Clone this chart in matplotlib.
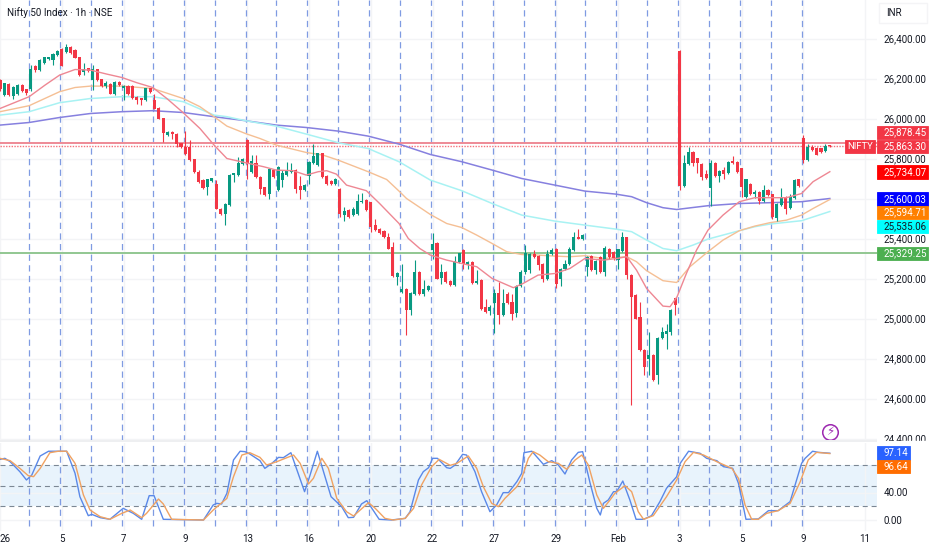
import numpy as np
import matplotlib
matplotlib.use('Agg')
import matplotlib.pyplot as plt
from matplotlib.patches import Rectangle

plt.rcParams['font.family'] = ['Roboto', 'DejaVu Sans']

opens = [26192,26117,26172,26112,26125,26167,26145,26150,26264,26245,
26279,26297,26295,26317,26350,26334,26359,26342,26305,26235,
26250,26192,26245,26195,26162,26172,26125,26184,26155,26165,
26162,26109,26100,26092,26150,26095,26055,26000,25917,25934,
25922,25875,25859,25859,25795,25734,25692,25659,25689,25672,
25550,25525,25567,25717,25717,25775,25892,25734,25775,25709,
25655,25625,25742,25645,25692,25717,25734,25745,25662,25645,
25712,25779,25767,25825,25712,25689,25675,25647,25517,25542,
25517,25522,25584,25592,25580,25467,25445,25437,25409,25355,
25209,25134,25150,25042,25125,25234,25125,25142,25345,25380,
25205,25232,25187,25167,25284,25342,25275,25284,25179,25192,
25059,25039,25079,25129,25017,25122,25084,25029,25164,25234,
25242,25322,25312,25272,25200,25325,25350,25200,25250,25272,
25342,25409,25400,25259,25312,25242,25309,25234,25347,25334,
25292,25339,25405,25217,25117,25005,24842,24800,24817,24717,
24904,24925,24934,25100,26335,25664,25775,25834,25800,25772,
25725,25655,25779,25712,25742,25729,25789,25784,25750,25609,
25672,25625,25634,25587,25642,25620,25505,25567,25609,25554,
25605,25695,25900,25792,25859,25854,25850,25837,25865]
highs = [26200,26180,26177,26165,26172,26172,26150,26267,26270,26297,
26310,26310,26330,26342,26354,26372,26365,26348,26308,26279,
26255,26270,26250,26200,26190,26176,26190,26190,26168,26170,
26168,26112,26104,26155,26155,26125,26060,26004,25940,25938,
25930,25880,25937,25892,25800,25742,25698,25700,25705,25692,
25554,25580,25722,25730,25809,25805,25897,25820,25820,25715,
25660,25755,25747,25765,25745,25784,25779,25750,25712,25672,
25790,25872,25830,25830,25716,25694,25705,25652,25559,25547,
25560,25625,25629,25597,25585,25500,25455,25442,25429,25384,
25232,25272,25155,25134,25295,25238,25195,25167,25430,25385,
25275,25237,25192,25312,25330,25350,25290,25290,25242,25197,
25100,25067,25150,25184,25150,25134,25125,25170,25242,25367,
25327,25342,25316,25276,25342,25354,25355,25255,25292,25359,
25434,25450,25425,25314,25317,25294,25314,25362,25352,25340,
25350,25434,25410,25222,25122,25084,24847,24934,24822,24909,
24959,24975,25047,25105,26342,25817,25859,25840,25805,25777,
25742,25795,25784,25744,25759,25789,25812,25789,25755,25700,
25677,25645,25639,25667,25647,25625,25577,25654,25614,25625,
25700,25700,25917,25872,25867,25858,25855,25872,25870]
lows = [26140,26112,26112,26100,26120,26135,26120,26140,26235,26240,
26275,26292,26267,26312,26262,26330,26325,26302,26212,26217,
26233,26145,26188,26158,26155,26122,26120,26165,26095,26120,
26100,26075,26067,26087,26130,26046,25996,25884,25912,25900,
25859,25855,25818,25790,25730,25680,25650,25620,25684,25546,
25520,25470,25562,25684,25712,25770,25700,25730,25705,25625,
25612,25600,25705,25640,25659,25712,25730,25629,25600,25640,
25675,25775,25762,25705,25670,25668,25670,25509,25489,25505,
25512,25518,25580,25540,25434,25438,25425,25405,25346,25208,
25167,25130,24917,25017,25120,25120,25114,25137,25300,25196,
25175,25180,25162,25162,25280,25250,25247,25175,25175,25045,
25030,25020,24929,24975,25012,25075,24992,25009,25160,25225,
25229,25305,25242,25184,25195,25320,25154,25164,25245,25268,
25338,25396,25395,25212,25238,25225,25230,25212,25300,25292,
25250,25335,25200,24567,24996,24838,24717,24720,24690,24675,
24900,24850,24917,25020,25642,25660,25770,25764,25729,25695,
25700,25564,25709,25684,25700,25725,25775,25730,25609,25605,
25618,25605,25575,25582,25612,25500,25487,25562,25525,25550,
25600,25660,25779,25787,25838,25816,25830,25832,25856]
closes = [26150,26175,26117,26155,26167,26138,26128,26250,26242,26292,
26305,26305,26325,26337,26265,26359,26329,26305,26217,26250,
26239,26247,26192,26162,26175,26125,26184,26167,26162,26125,
26105,26095,26092,26150,26134,26050,26000,25929,25934,25922,
25875,25859,25822,25795,25734,25684,25655,25695,25700,25550,
25525,25575,25717,25725,25775,25800,25775,25787,25709,25650,
25617,25750,25709,25759,25725,25739,25742,25650,25645,25667,
25784,25812,25825,25709,25675,25672,25700,25525,25539,25509,
25545,25587,25587,25545,25459,25442,25429,25409,25350,25212,
25225,25145,25045,25129,25234,25125,25150,25162,25372,25200,
25232,25184,25167,25287,25325,25275,25284,25179,25189,25050,
25034,25059,25125,25017,25079,25079,25025,25164,25234,25325,
25322,25309,25267,25200,25325,25345,25175,25250,25275,25345,
25409,25400,25420,25309,25242,25289,25234,25350,25309,25305,
25345,25409,25217,25109,25000,24842,24759,24817,24695,24904,
24934,24939,25042,25067,25664,25779,25834,25779,25779,25709,
25705,25780,25714,25739,25722,25784,25779,25734,25659,25695,
25622,25634,25587,25642,25617,25509,25572,25609,25550,25605,
25695,25664,25792,25859,25842,25820,25834,25862,25863]

ema_red_x = [0,6.6,10.2,13.5,17,20.5,24.2,27.6,31,34.6,37.8,41.5,45.3,48.5,51.4,55.6,59.7,62.6,66.4,69.4,72.1,74,76.2,78.5,83,86,90.4,92.5,95.1,97.5,101.2,104.6,108,111.5,116.3,118.5,121.9,125.7,129.1,132.5,136.7,139.7,142,144.2,146.5,150.2,151.8,153.4,155.5,157.8,160.4,163.8,167.5,171,174.4,178.2,181.6,184.2,188]
ema_red_y = [26050,26109,26167,26217,26245,26242,26222,26205,26179,26155,26100,26029,25950,25867,25800,25779,25759,25742,25739,25717,25734,25739,25722,25667,25639,25575,25475,25400,25350,25317,25292,25275,25259,25200,25154,25175,25217,25225,25250,25300,25292,25300,25309,25242,25150,25062,25059,25109,25225,25342,25442,25517,25584,25604,25604,25604,25625,25684,25734]
ema_org_x = [0,6.6,13.5,17,20.5,27.6,34.6,41.5,45.3,48.5,51.4,55.6,58.9,62.6,69.4,73.2,76.6,83.4,87.6,90.4,92.1,97.5,101.2,104.6,108,111.5,114.8,118.2,121.9,125.7,129.1,132.5,136.7,142,144.2,146.5,150.2,153.3,156.3,160.4,163.8,167.5,171,174.4,178.2,181.6,184.2,188]
ema_org_y = [26034,26064,26134,26155,26162,26162,26150,26100,26059,26009,25962,25925,25900,25867,25830,25817,25792,25734,25695,25637,25600,25520,25475,25455,25417,25375,25334,25320,25317,25312,25309,25314,25300,25309,25284,25239,25189,25180,25259,25334,25392,25439,25462,25479,25492,25517,25550,25595]
ema_cyan_x = [0,6.6,13.5,20.5,27.6,34.6,41.5,48.5,51.4,55.6,62.6,69.4,76.6,83.4,90.4,97.5,104.6,111.5,118.2,125.7,132.5,139.5,143.1,146.5,150.2,153.3,157,160.4,167.5,171,174.4,181.6,188]
ema_cyan_y = [26017,26034,26079,26100,26109,26109,26084,26017,26009,25989,25962,25922,25879,25850,25784,25692,25639,25575,25517,25487,25467,25447,25434,25392,25350,25339,25367,25397,25439,25459,25472,25489,25535]
ema_pur_x = [0,6.6,13.5,20.5,27.6,34.6,41.5,48.5,55.6,62.6,69.4,76.6,83.4,90.4,97.5,104.6,111.5,118.2,125.7,132.5,139.5,143.1,146.5,150.2,153.3,157,160.4,167.5,174.4,181.6,188]
ema_pur_y = [25967,25980,26005,26025,26034,26039,26030,26009,25989,25967,25955,25937,25912,25872,25820,25784,25742,25700,25667,25637,25622,25609,25579,25554,25545,25555,25564,25575,25579,25584,25600]

k_x = [0,1.1,2.3,4.5,6,7.2,9.1,11,15.1,17,18.1,20,20.8,22.7,24.9,27.9,30.2,32.1,33.8,34.9,37,46.1,48.3,49.1,50.2,51.4,52.9,54.4,55.5,56.6,58.9,60,61.6,63.1,64.2,65.9,69,69.9,71.9,75,77.4,78.9,80.1,81.9,83.1,85.9,88.7,91.8,92.9,94.8,95.9,97.1,98,99.1,101.2,102,103.1,104.8,105.7,107.6,109.1,111,112.5,114,115.2,117.1,118.2,118.7,120.5,123.1,125,126.5,128,129.5,131,132,133.7,135.2,136,136.7,137.8,139,139.7,141.1,142.7,144.1,145.8,147.6,149.5,151,153.3,154.1,156,158.6,160.1,162.4,163.9,166,167.3,169,171.8,174.1,176.3,179,181.6,182.4,184.1,185.4,188]
k_y = [88.2,89.7,84.8,70.3,58.2,65.4,93.1,100,100,67.9,33.9,6.3,8.2,3.4,1,17,9.7,1,35.4,35.4,1,0,21.8,24.2,23.3,38.8,87.3,100,99.4,96,86.3,75.1,82.4,91.1,90.7,97.9,41.2,58.2,100,33.9,19.4,3.4,3.9,23.3,28.1,1,0,2.4,12.1,58.2,70.3,76.1,89.7,89.7,76.1,75.1,80,95.5,94.5,70.3,41.2,12.1,21.8,39.8,39.8,55.8,67.9,97.9,100,81,86.3,80,66.9,87.3,98.4,99.4,53.3,17,7.3,24.2,29.1,41.2,41.2,56.7,29.1,1,1,6.3,26.7,46.1,63,82.4,100,97,89.7,86.3,77.6,75.1,53.3,1,1.5,13.6,13.6,26.7,82.4,89.7,100,98.4,97.14]
d_x = [0,2.3,4.5,6.4,7.6,9.1,11.3,13.2,15.1,17,18.9,20.4,22.7,24.9,27.6,29.5,32.1,33.2,35.9,37,38.9,46.1,48.3,51.4,52.9,54.8,56.6,58.9,60.4,62.7,66.5,68,69.9,71,72.9,74.4,76.3,78.5,80.1,81.6,83.5,85,87.2,89.1,91.8,93.7,95.5,97.8,99.5,102,103.5,106.1,108,109.5,111.4,112.9,114.4,117.1,118.2,119.7,120.8,122.3,124.2,126.5,128.4,130.3,131.8,133.3,135.2,136.7,138.2,139.3,141.6,143.1,144.6,145.8,148,151,153.3,155.2,157.1,159.4,162.4,165.8,167.3,168.8,170.3,171.8,173.7,176.3,179,181.3,183.1,185,188]
d_y = [89.7,86.3,75.1,64.5,63,75.1,97.9,100,100,82.4,36.4,14.5,4.8,1,9.7,14.5,3.4,9.7,30.5,23.3,1,0,14.5,31.5,63,94.5,97.9,91.1,80,84.8,94.5,82.4,52.4,60.6,89.7,75.1,31.5,12.1,5.8,14.5,25.2,17,2.4,0,2.4,17,50.9,77.6,88.2,79.5,82.4,93.1,75.1,48.5,24.2,19.4,31.5,48.5,60.6,89.7,99.4,94.5,84.8,82.4,73.7,87.3,94.5,80,36.4,17,29.1,38.8,49.9,41.2,12.1,1,6.3,33.9,58.2,84.8,98.4,94.5,84.8,75.1,60.6,21.8,1,1,9.7,13.6,24.2,55.8,87.3,98.4,96.64]

price_ticks = [26400,26200,26000,25800,25400,25200,25000,24800,24600,24400]
tick_bars = list(range(0, 197, 14))
tick_names = ['26','5','7','9','13','16','20','22','27','29','Feb','3','5','9','11']
resistance = 25878.45
last_price = 25863.30
support = 25329.25

W, H = 932, 550
GREEN, RED = '#089981', '#f23645'
TXT = '#131722'
GRID = '#f3f4f6'
VLINE = '#7f9be2'
FS = 7.0

fig = plt.figure(figsize=(W/100, H/100), dpi=100, facecolor='white')
def rect(l, t, r, b):
    return [l/W, 1-b/H, (r-l)/W, (b-t)/H]
ax = fig.add_axes(rect(0, 0, 877, 441))
low = fig.add_axes(rect(0, 443, 877, 531))
xlim = (0, 877/4.414)
ax.set_xlim(*xlim); low.set_xlim(*xlim)
ax.set_ylim(24387.5, 26592.5)
low.set_ylim(-16, 112)
for a in (ax, low):
    for s in a.spines.values():
        s.set_visible(False)

o, h, l, c = map(np.array, (opens, highs, lows, closes))
idx = np.arange(len(o))
cols = np.where(c >= o, GREEN, RED)

# grid
all_ticks = sorted(set(price_ticks + [25600]))
ax.set_yticks(all_ticks)
ax.yaxis.tick_right()
ax.set_yticklabels([f'{t:,.2f}' if t != 25600 else '' for t in all_ticks])
ax.tick_params(axis='y', length=0, pad=4.5, labelsize=FS, labelcolor=TXT)
ax.set_xticks(tick_bars); ax.tick_params(axis='x', length=0, labelbottom=False)
ax.grid(True, color=GRID, lw=1); ax.set_axisbelow(True)
low.set_xticks(tick_bars)
low.set_xticklabels(tick_names)
low.tick_params(axis='x', length=0, pad=2, labelsize=FS, labelcolor=TXT)
low.get_xticklabels()[0].set_ha('left')
low.set_yticks([0, 40]); low.yaxis.tick_right()
low.set_yticklabels(['0.00', '40.00'])
low.tick_params(axis='y', length=0, pad=4.5, labelsize=FS, labelcolor=TXT)
low.grid(True, color=GRID, lw=1); low.set_axisbelow(True)

# session separators
day_lines = np.arange(6.64, 182, 7)
ax.vlines(day_lines, 0, 1, transform=ax.get_xaxis_transform(), color=VLINE,
          lw=0.9, linestyles=(0, (5, 3.5)), zorder=1)
low.vlines(day_lines, -9, 112, color=VLINE, lw=0.9, linestyles=(0, (5, 3.5)), zorder=1)
low.set_ylim(-16, 112)

# horizontal levels
ax.axhline(resistance, color='#ee8a96', lw=1.4, zorder=2)
ax.axhline(support, color='#92c792', lw=1.4, zorder=2)
ax.axhline(last_price, color=RED, lw=1, ls=(0, (1, 1)), alpha=.7, zorder=2)

# EMAs
ax.plot(ema_pur_x, ema_pur_y, color='#8680df', lw=1.1, zorder=3)
ax.plot(ema_cyan_x, ema_cyan_y, color='#a8f2f3', lw=1.1, zorder=3)
ax.plot(ema_org_x, ema_org_y, color='#f5bf94', lw=1.0, zorder=3)

# candles
ax.vlines(idx, l, h, colors=cols, lw=0.8, zorder=4)
ax.bar(idx, np.maximum(np.abs(c-o), 5), bottom=np.minimum(o, c), width=0.7, color=cols, lw=0, zorder=4)
ax.plot(ema_red_x, ema_red_y, color='#ee8793', lw=1.0, zorder=5)

# stochastic pane
low.axhspan(20, 80, color='#e8f3fc', lw=0, zorder=0)
for v in (20, 50, 80):
    low.axhline(v, color='#7b8794', lw=0.8, ls=(0, (4.5, 3.5)), zorder=1)
low.plot(k_x, k_y, color='#5a88e8', lw=1.0, zorder=3)
low.plot(d_x, d_y, color='#f0a262', lw=1.0, zorder=4)

def ptext(x, y, s, **kw):
    return fig.text(x/W, 1-y/H, s, va='center', **kw)

ptext(7, 13, 'Nifty 50 Index · 1h · NSE', fontsize=7.1, color=TXT, zorder=20)

# separator and INR box
fig.add_artist(Rectangle((877/W, 1-444/H), 55/W, 3/H, transform=fig.transFigure, color='white', zorder=8))
fig.add_artist(Rectangle((0, 1-442/H), 877/W, 2/H, transform=fig.transFigure, color='#eeeff1', lw=0, zorder=8))
fig.add_artist(Rectangle((879/W, 1-23/H), 48/W, 20/H, transform=fig.transFigure, fc='white', ec='#f4f4f6', lw=1, zorder=8))
ptext(886, 13, 'INR', fontsize=FS, color=TXT, zorder=20)

# value badges
labels = [
    ('25,878.45', 132.7, RED, 'white'),
    ('25,863.30', 146.7, RED, 'white'),
    ('25,734.07', 172, '#ff0000', 'white'),
    ('25,600.03', 199, '#0000ff', 'white'),
    ('25,594.71', 212.7, '#ff8000', 'white'),
    ('25,535.06', 226.3, '#00ffff', '#131722'),
    ('25,329.25', 253.3, '#4caf50', 'white'),
    ('97.14', 453, '#2962ff', 'white'),
    ('96.64', 466.7, '#ff6d00', 'white'),
]
for s, y, bg, fg in labels:
    w = 51 if ',' in s else 33
    fig.add_artist(Rectangle((876.7/W, 1-(y+6.7)/H), w/W, 13.4/H, transform=fig.transFigure, fc=bg, ec=bg, lw=0.6, zorder=9))
    ptext(883, y, s, fontsize=FS, color=fg, zorder=20)
fig.add_artist(Rectangle((845/W, 1-153.4/H), 30/W, 13.4/H, transform=fig.transFigure, fc=RED, ec=RED, lw=0.6, zorder=9))
ptext(860, 146.7, 'NIFTY', fontsize=6.8, color='white', ha='center', zorder=20)

# lightning badge
bolt_price = 26400-(431.7-38.5)*5
ax.scatter([830/4.414], [bolt_price], s=125, facecolor='white', edgecolor='#9c27b0', lw=1.1, zorder=10, clip_on=False)
ax.text(830/4.414, bolt_price, '⚡', fontsize=8.5, color='#9c27b0', ha='center', va='center', family='DejaVu Sans', zorder=11)

fig.savefig('out.png', dpi=100)
